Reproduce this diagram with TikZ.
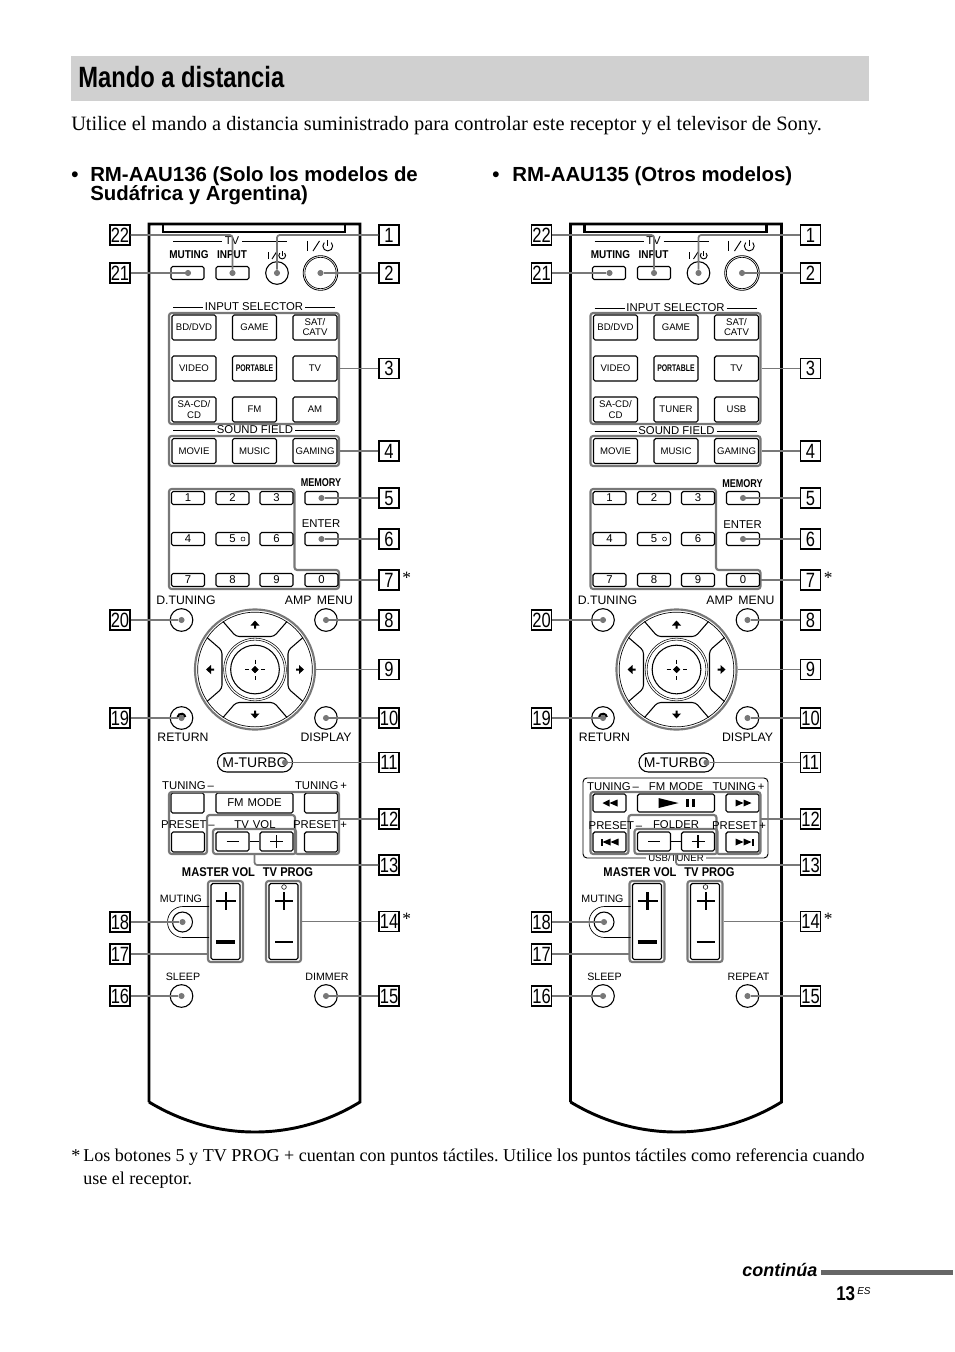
\documentclass[tikz,border=0pt]{standalone}
\usepackage{fontspec}
\usepackage{graphicx}
\setmainfont{Liberation Serif}
\setsansfont{Liberation Sans}
\usetikzlibrary{positioning}
\definecolor{leadgray}{RGB}{120,120,120}
\definecolor{bandgray}{RGB}{208,208,208}
\definecolor{rulegray}{RGB}{102,102,102}
\newcommand{\narrow}[1]{\scalebox{0.85}[1]{#1}}
\newcommand{\boldnarrow}[1]{\scalebox{0.88}[1]{\bfseries #1}}
\newcommand{\numtxt}[1]{\scalebox{0.8}[1]{#1}}
\newcommand{\lblfont}{\fontsize{8.5}{8.5}\selectfont\sffamily}
\newcommand{\navfont}{\fontsize{9.2}{9.2}\selectfont\sffamily}
\newcommand{\keyfont}{\fontsize{7.2}{7.6}\selectfont\sffamily}
\tikzset{
    lead/.style={draw=leadgray, line width=1.3pt, rounded corners=2pt},
    numbox/.style={draw, line width=0.8pt, minimum size=15pt, inner sep=0pt, font=\fontsize{15.5}{15.5}\selectfont\sffamily},
    keybtn/.style 2 args={draw, line width=0.8pt, rounded corners=1.3pt, minimum width=#1*0.75pt, minimum height=#2*0.75pt, inner sep=0pt, align=center, font=\keyfont},
    frame/.style 2 args={draw=leadgray, line width=1.6pt, rounded corners=2pt, minimum width=#1*0.75pt, minimum height=#2*0.75pt, inner sep=0pt},
    lbl/.style={inner sep=0pt, font=\lblfont},
    navlbl/.style={inner sep=0pt, font=\navfont},
    dot/.style={circle, fill=leadgray, minimum size=4.6pt, inner sep=0pt},
    roundbtn/.style={circle, draw, line width=0.8pt, minimum size=17pt, inner sep=0pt},
    pagetxt/.style={inner sep=0pt, anchor=base west},
    powersym/.pic={
        \draw[line width=0.7pt] (-8.5,-3.5) -- (-8.5,3.5);
        \draw[line width=0.7pt] (-4.5,3.5) -- (0,-3.5);
        \draw[line width=0.7pt] (8.1,-2.4) arc[start angle=-45,end angle=225,radius=3.4];
        \draw[line width=0.7pt] (5.7,-4.2) -- (5.7,0);
    },
}
\begin{document}
\begin{tikzpicture}[x=0.75pt,y=-0.75pt]
    \useasboundingbox (0,0) rectangle (954,1352);
    \frenchspacing
    % Page heading and text
    \node[fill=bandgray, minimum width=798*0.75pt, minimum height=45*0.75pt, inner sep=0pt] (band) at (470,78.5) {};
    \node[pagetxt, font=\fontsize{22}{22}\selectfont\sffamily\bfseries] (title) at (78,88) {\scalebox{0.81}[1]{Mando a distancia}};
    \node[pagetxt, font=\fontsize{15.28}{17}\selectfont] (intro) at (71,131) {Utilice el mando a distancia suministrado para controlar este receptor y el televisor de Sony.};
    \node[pagetxt, font=\fontsize{15.3}{17}\selectfont\sffamily\bfseries] (head1) at (71,181) {•};
    \node[pagetxt, font=\fontsize{15.3}{17}\selectfont\sffamily\bfseries] (head1a) at (90,181) {RM-AAU136 (Solo los modelos de};
    \node[pagetxt, font=\fontsize{15.3}{17}\selectfont\sffamily\bfseries] (head1b) at (90,200) {Sudáfrica y Argentina)};
    \node[pagetxt, font=\fontsize{15.3}{17}\selectfont\sffamily\bfseries] (head2) at (492,181) {•};
    \node[pagetxt, font=\fontsize{15.3}{17}\selectfont\sffamily\bfseries] (head2a) at (512,181) {RM-AAU135 (Otros modelos)};
    \node[pagetxt, font=\fontsize{13.56}{17}\selectfont] (foot0) at (71,1161) {*};
    \node[pagetxt, font=\fontsize{13.56}{17}\selectfont] (foot1) at (83,1161) {Los botones 5 y TV PROG + cuentan con puntos táctiles. Utilice los puntos táctiles como referencia cuando};
    \node[pagetxt, font=\fontsize{13.56}{17}\selectfont] (foot2) at (83,1184) {use el receptor.};
    \node[pagetxt, font=\fontsize{13.5}{15}\selectfont\sffamily\bfseries\itshape] (cont) at (742,1276) {continúa};
    \node[fill=rulegray, minimum width=132*0.75pt, minimum height=5*0.75pt, inner sep=0pt] (contrule) at (887,1272.5) {};
    \node[pagetxt, font=\fontsize{15}{15}\selectfont\sffamily\bfseries] (pagenum) at (836,1300) {\scalebox{0.85}[1]{13}};
    \node[pagetxt, font=\fontsize{7.5}{8}\selectfont\sffamily\itshape] (pagees) at (857,1294) {ES};
    % Both remotes
    \foreach \ox/\dy/\pre/\fm/\am/\dimk in {0/0/l/FM/AM/DIMMER, 421.5/1/r/TUNER/USB/REPEAT} {
    \begin{scope}[shift={(\ox,0)}, name prefix=\pre-]
        % Body
        \draw[line width=2.2pt] (149,1102) -- (149,224) -- (360,224) -- (360,1102) .. controls (295,1142) and (215,1142) .. (149,1102);
        \draw[line width=1.8pt] (163,224) -- (163,232) -- (345,232) -- (345,224);
        % TV row
        \node[lbl] (tvtxt) at (232,241) {TV};
        \draw[line width=0.7pt] (173,241) -- (222,241);
        \draw[line width=0.7pt] (242,241) -- (287,241);
        \node[lbl] (mutetxt) at (189,255) {\boldnarrow{MUTING}};
        \node[lbl] (inputtxt) at (232,255) {\boldnarrow{INPUT}};
        \pic at (276.5,255.5) {powersym};
        \pic[scale=1.45] at (319.5,246) {powersym};
        \node[keybtn={33}{13}] (mutebtn) at (187.5,273) {};
        \node[keybtn={33}{13}] (inputbtn) at (232.5,273) {};
        \node[roundbtn, minimum size=17pt] (powtv) at (277,273) {};
        \node[circle, draw, line width=0.6pt, minimum size=26pt, inner sep=0pt] (powmain) at (320.5,273) {};
        \node[circle, draw, line width=0.5pt, minimum size=23.5pt, inner sep=0pt] (powin) at (320.5,273) {};
        % Input selector
        \node[lbl] (seltxt) at (254,307+\dy) {INPUT SELECTOR};
        \draw[line width=0.7pt] (173,307+\dy) -- (203,307+\dy);
        \draw[line width=0.7pt] (305,307+\dy) -- (335,307+\dy);
        \node[frame={170}{111}] (selframe) at (254,368.5) {};
        \foreach \nm/\t/\x/\y in {s1/{BD/DVD}/194/327.5, s2/GAME/254.5/327.5, s3/{SAT/\\CATV}/315/327.5, s4/VIDEO/194/368.5, s5/{\scalebox{0.72}[1]{\bfseries PORTABLE}}/254.5/368.5, s6/TV/315/368.5, s7/{SA-CD/\\CD}/194/409.5, s8/\fm/254.5/409.5, s9/\am/315/409.5}
            \node[keybtn={44}{25}] (\nm) at (\x,\y) {\t};
        % Sound field
        \node[lbl] (fieldtxt) at (255,430+\dy) {SOUND FIELD};
        \draw[line width=0.7pt] (173,430+\dy) -- (215,430+\dy);
        \draw[line width=0.7pt] (295,430+\dy) -- (335,430+\dy);
        \node[frame={170}{30}] (fieldframe) at (254,451) {};
        \foreach \nm/\t/\x in {f1/MOVIE/194, f2/MUSIC/254.5, f3/GAMING/315}
            \node[keybtn={44}{25}] (\nm) at (\x,451) {\t};
        % Number pad
        \draw[draw=leadgray, line width=1.6pt, rounded corners=2pt] (169,489) -- (294.5,489) -- (294.5,570) -- (339,570) -- (339,589) -- (169,589) -- cycle;
        \foreach \nm/\t/\x/\y in {n1/1/188/498, n2/2/232.5/498, n3/3/276.5/498, nm/{}/321.5/498, n4/4/188/539, n5/5/232.5/539, n6/6/276.5/539, ne/{}/321.5/539, n7/7/188/580, n8/8/232.5/580, n9/9/276.5/580, n0/0/321.5/580}
            \node[keybtn={33}{13}, font=\lblfont] (\nm) at (\x,\y) {\t};
        \node[circle, draw, line width=0.4pt, minimum size=3pt, inner sep=0pt] (tactile5) at (243,539) {};
        \node[lbl] (memtxt) at (321,483+\dy) {\scalebox{0.8}[1]{\bfseries MEMORY}};
        \node[lbl] (enttxt) at (321,524+\dy) {ENTER};
        % Navigation
        \node[navlbl] (dttxt) at (186,600) {D.TUNING};
        \node[navlbl] (amptxt) at (319,600) {AMP\hspace{4pt}MENU};
        \node[navlbl] (rettxt) at (183,737) {RETURN};
        \node[navlbl] (distxt) at (326,737) {DISPLAY};
        \node[roundbtn] (dtbtn) at (181.5,620) {};
        \node[roundbtn] (ampbtn) at (326,620) {};
        \node[roundbtn] (retbtn) at (181.5,718) {};
        \node[roundbtn] (disbtn) at (326,718) {};
        \node[circle, draw=leadgray, line width=1.6pt, minimum size=90pt, inner sep=0pt] (nav) at (255,669.5) {};
        \node[circle, draw, line width=0.5pt, minimum size=86pt, inner sep=0pt] (navin) at (255,669.5) {};
        \node[circle, draw, line width=0.4pt, minimum size=47pt, inner sep=0pt] (navr1) at (255,669.5) {};
        \node[circle, draw, line width=0.4pt, minimum size=44pt, inner sep=0pt] (navr2) at (255,669.5) {};
        \node[circle, draw, line width=0.8pt, minimum size=36.5pt, inner sep=0pt] (navok) at (255,669.5) {};
        \foreach \a in {0,90,180,270} {
            \begin{scope}[shift={(255,669.5)}, rotate=\a]
                \draw[line width=0.8pt, rounded corners=2.5pt] (-32,-48) -- (-19,-33) -- (19,-33) -- (32,-48);
                \fill (0,-49) -- (4.5,-44) -- (1,-44) -- (1,-41) -- (-1,-41) -- (-1,-44) -- (-4.5,-44) -- cycle;
                \draw[line width=0.5pt] (0,-10) -- (0,-6);
                \fill (0,-3.5) -- (3.5,0) -- (-3.5,0) -- cycle;
            \end{scope}
        }
        % M-TURBO
        \node[draw, line width=0.8pt, rounded corners=7pt, minimum width=75*0.75pt, minimum height=19*0.75pt, inner sep=0pt, font=\fontsize{10.5}{10.5}\selectfont\sffamily] (turbo) at (255,762.5) {M-TURBO};
        % Tuning block
        \ifnum\dy=0
            \node[lbl] (tunminus) at (188,786) {TUNING\,--};
            \node[lbl] (tunplus) at (321,786) {TUNING\,+};
            \node[keybtn={33}{20}] (tk1) at (187.5,803) {};
            \node[keybtn={77}{20}] (tk2) at (254.5,803) {\lblfont FM\hspace{3pt}MODE};
            \node[keybtn={33}{20}] (tk3) at (321,803) {};
        \else
            \node[draw, line width=0.7pt, rounded corners=3pt, minimum width=185*0.75pt, minimum height=80*0.75pt, inner sep=0pt] (usbframe) at (254,818) {};
            \node[lbl, fill=white, inner xsep=2pt, font=\keyfont] (usbtxt) at (254.5,858) {USB/TUNER};
            \node[lbl] (tunminus) at (191.5,786.5) {TUNING\,--};
            \node[lbl] (tmode) at (254.5,787) {FM\hspace{3pt}MODE};
            \node[lbl] (tunplus) at (317,787) {TUNING\,+};
            \node[keybtn={33}{18}] (tk1) at (188,803) {};
            \node[keybtn={77}{18}] (tk2) at (254.5,803) {};
            \node[keybtn={33}{18}] (tk3) at (321,803) {};
            \fill (181,803) -- (188,799.5) -- (188,806.5) -- cycle;
            \fill (188,803) -- (196,799.5) -- (196,806.5) -- cycle;
            \fill (237,798) -- (257,803) -- (237,808) -- cycle;
            \fill (264,799) rectangle (267.5,807);
            \fill (270,799) rectangle (273.5,807);
            \fill (322,799.5) -- (330,803) -- (322,806.5) -- cycle;
            \fill (314,799.5) -- (322,803) -- (314,806.5) -- cycle;
            \fill (179,838.5) rectangle (181,845.5);
            \fill (181,842) -- (189,838.5) -- (189,845.5) -- cycle;
            \fill (189,842) -- (197,838.5) -- (197,845.5) -- cycle;
            \fill (314,838.5) -- (322,842) -- (314,845.5) -- cycle;
            \fill (322,838.5) -- (330,842) -- (322,845.5) -- cycle;
            \fill (330,838.5) rectangle (332,845.5);
        \fi
        \node[keybtn={33}{20}] (tk4) at (188,842) {};
        \node[keybtn={33}{20}] (tk5) at (321,842) {};
        \draw[draw=leadgray, line width=1.6pt, rounded corners=2pt] (169,792) -- (339,792) -- (339,854) -- (295,854) -- (295,815) -- (207,815) -- (207,854) -- (169,854) -- cycle;
        \node[frame={83}{25}] (volframe) at (254.5,841.5) {};
        \ifnum\dy=0
            \node[lbl] (preminus) at (188,825) {PRESET\,--};
            \node[lbl] (preplus) at (320,825) {PRESET\,+};
            \node[lbl] (voltxt) at (255,824.5) {TV\hspace{3pt}VOL};
        \else
            \node[lbl] (preminus) at (194,826) {PRESET\,--};
            \node[lbl] (preplus) at (317.5,826) {PRESET\,+};
            \node[lbl] (voltxt) at (254.5,825) {FOLDER};
        \fi
        \node[keybtn={33}{19}] (volm) at (232.5,841.5) {};
        \node[keybtn={33}{19}] (volp) at (276.5,841.5) {};
        \draw[line width=0.5pt] (volm) -- (volp);
        \draw[line width=1pt] (226.5,841.5) -- (238.5,841.5);
        \draw[line width=1pt] (270,841.5) -- (283,841.5);
        \draw[line width=1pt] (276.5,835) -- (276.5,848);
        % Volume keys
        \node[inner sep=0pt, font=\fontsize{9.5}{9.5}\selectfont\sffamily] (mvtxt) at (218.5,872) {\boldnarrow{MASTER VOL}};
        \node[inner sep=0pt, font=\fontsize{9.5}{9.5}\selectfont\sffamily] (tptxt) at (288,872) {\boldnarrow{TV PROG}};
        \node[frame={35}{81}] (mvframe) at (225.5,921.5) {};
        \node[frame={35}{81}] (tpframe) at (283.5,921.5) {};
        \node[keybtn={29}{76}] (mvkey) at (225.5,921.5) {};
        \node[keybtn={29}{76}] (tpkey) at (283.5,921.5) {};
        \draw[line width=2pt] (226,892) -- (226,910);
        \draw[line width=2pt] (216,901) -- (236,901);
        \draw[line width=2.6pt] (216,942) -- (235,942);
        \draw[line width=1.5pt] (284,892) -- (284,910);
        \draw[line width=1.5pt] (275,901) -- (293,901);
        \draw[line width=1.5pt] (275,942) -- (293,942);
        \node[circle, draw, line width=0.4pt, minimum size=3.5pt, inner sep=0pt] (tactileprog) at (284,887) {};
        % Lower buttons
        \node[lbl, font=\fontsize{8}{8}\selectfont\sffamily] (mute2txt) at (181,899) {MUTING};
        \node[lbl, font=\fontsize{8}{8}\selectfont\sffamily] (sleeptxt) at (183,977) {SLEEP};
        \node[lbl, font=\fontsize{8}{8}\selectfont\sffamily] (dimtxt) at (327,977) {\dimk};
        \node[circle, draw, line width=0.8pt, minimum size=15pt, inner sep=0pt] (mute2) at (182.5,922) {};
        \draw[line width=0.5pt] (209,906.5) -- (183,906.5) arc[start angle=-90,end angle=-270,radius=15.5] -- (209,937.5);
        \node[roundbtn] (sleepbtn) at (181.5,996) {};
        \node[roundbtn] (dimbtn) at (326,996) {};
        % Gray dots
        \foreach \nm/\x/\y in {dmute/188/273, dinput/232.5/273, dpow/277/273, dmain/320.5/273, dmem/321.5/498, dent/321.5/539, ddt/181.5/620, damp/326/620, dret/181.5/718, ddis/326/718, dturbo/285/762.5, dmute2/182.5/922, dsleep/181.5/996, ddim/326/996}
            \node[dot] (\nm) at (\x,\y) {};
        \draw[line width=1.5pt] (177.5,717) arc[start angle=-170,end angle=-10,radius=4];
        % Free ends on the gray frames
        \coordinate (cseven) at (339,580);
        \coordinate (ctwelve) at (339,819);
        \coordinate (cthirteen) at (254.5,854);
        \coordinate (cseventeen) at (208,954);
        % Number boxes
        \foreach \n/\x/\y in {1/389/235, 2/389/273, 3/389/368.5, 4/389/451, 5/389/498, 6/389/539, 7/389/580, 8/389/620, 9/389/669.5, 10/389/718, 11/389/762.5, 12/389/819, 13/389/865, 14/389/921.5, 15/389/996, 16/120/996, 17/120/954, 18/120/922, 19/120/718, 20/120/620, 21/120/273, 22/120/235}
            \node[numbox] (b\n) at (\x,\y) {\numtxt{\n}};
        % Leader lines
        \draw[lead] (b1) -| (dpow);
        \draw[lead] (b2) -- (dmain);
        \draw[lead] (b3) -- (selframe);
        \draw[lead] (b4) -- (fieldframe);
        \draw[lead] (b5) -- (dmem);
        \draw[lead] (b6) -- (dent);
        \draw[lead] (b7) -- (cseven);
        \draw[lead] (b8) -- (damp);
        \draw[lead] (b9) -- (nav);
        \draw[lead] (b10) -- (ddis);
        \draw[lead] (b11) -- (dturbo);
        \draw[lead] (b12) -- (ctwelve);
        \draw[lead] (b13) -| (cthirteen);
        \draw[lead] (b14) -- (tpframe);
        \draw[lead] (b15) -- (ddim);
        \draw[lead] (b16) -- (dsleep);
        \draw[lead] (b17) -- (cseventeen);
        \draw[lead] (b18) -- (dmute2);
        \draw[lead] (b19) -- (dret);
        \draw[lead] (b20) -- (ddt);
        \draw[lead] (b21) -- (dmute);
        \draw[lead] (b22) -| (dinput);
        % Stars beside 7 and 14
        \node[pagetxt, font=\fontsize{13}{13}\selectfont] (star7) at (402,583) {*};
        \node[pagetxt, font=\fontsize{13}{13}\selectfont] (star14) at (402,924) {*};
    \end{scope}
    }
\end{tikzpicture}
\end{document}
